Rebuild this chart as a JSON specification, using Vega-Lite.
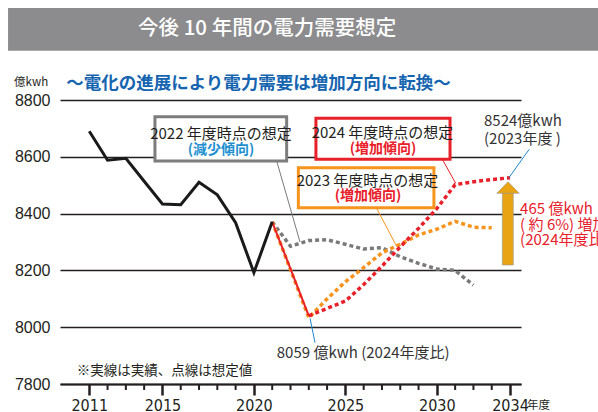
{
  "$schema": "https://vega.github.io/schema/vega-lite/v6.json",
  "width": 461,
  "height": 284,
  "autosize": {"type": "none"},
  "padding": {"left": 60, "top": 100, "right": 77, "bottom": 28},
  "background": "white",
  "config": {"view": {"stroke": null}, "text": {"font": "Noto Sans CJK JP"}},
  "datasets": {
    "series": [
      {"series": "actual", "year": 2011, "value": 8690},
      {"series": "actual", "year": 2012, "value": 8588},
      {"series": "actual", "year": 2013, "value": 8595},
      {"series": "actual", "year": 2014, "value": 8514},
      {"series": "actual", "year": 2015, "value": 8434},
      {"series": "actual", "year": 2016, "value": 8431},
      {"series": "actual", "year": 2017, "value": 8510},
      {"series": "actual", "year": 2018, "value": 8466},
      {"series": "actual", "year": 2019, "value": 8368},
      {"series": "actual", "year": 2020, "value": 8192},
      {"series": "actual", "year": 2021, "value": 8371},
      {"series": "f2024solid", "year": 2021, "value": 8371},
      {"series": "f2024solid", "year": 2023, "value": 8040},
      {"series": "f2024", "year": 2023, "value": 8040},
      {"series": "f2024", "year": 2024, "value": 8066},
      {"series": "f2024", "year": 2025, "value": 8092},
      {"series": "f2024", "year": 2026, "value": 8150},
      {"series": "f2024", "year": 2027, "value": 8215},
      {"series": "f2024", "year": 2028, "value": 8283},
      {"series": "f2024", "year": 2029, "value": 8348},
      {"series": "f2024", "year": 2030, "value": 8418},
      {"series": "f2024", "year": 2031, "value": 8502},
      {"series": "f2024", "year": 2032, "value": 8512},
      {"series": "f2024", "year": 2033, "value": 8520},
      {"series": "f2024", "year": 2034, "value": 8526},
      {"series": "f2023", "year": 2021, "value": 8371},
      {"series": "f2023", "year": 2023, "value": 8033},
      {"series": "f2023", "year": 2024, "value": 8100},
      {"series": "f2023", "year": 2025, "value": 8160},
      {"series": "f2023", "year": 2026, "value": 8210},
      {"series": "f2023", "year": 2027, "value": 8262},
      {"series": "f2023", "year": 2028, "value": 8292},
      {"series": "f2023", "year": 2029, "value": 8325},
      {"series": "f2023", "year": 2030, "value": 8345},
      {"series": "f2023", "year": 2031, "value": 8373},
      {"series": "f2023", "year": 2032, "value": 8352},
      {"series": "f2023", "year": 2033, "value": 8350},
      {"series": "f2022", "year": 2021, "value": 8371},
      {"series": "f2022", "year": 2022, "value": 8285},
      {"series": "f2022", "year": 2023, "value": 8305},
      {"series": "f2022", "year": 2024, "value": 8308},
      {"series": "f2022", "year": 2025, "value": 8292},
      {"series": "f2022", "year": 2026, "value": 8275},
      {"series": "f2022", "year": 2027, "value": 8280},
      {"series": "f2022", "year": 2028, "value": 8248},
      {"series": "f2022", "year": 2029, "value": 8225},
      {"series": "f2022", "year": 2030, "value": 8205},
      {"series": "f2022", "year": 2031, "value": 8200},
      {"series": "f2022", "year": 2032, "value": 8148}
    ],
    "minor": [
      {"year": 2012}, {"year": 2013}, {"year": 2014},
      {"year": 2016}, {"year": 2017}, {"year": 2018}, {"year": 2019},
      {"year": 2021}, {"year": 2022}, {"year": 2023}, {"year": 2024},
      {"year": 2026}, {"year": 2027}, {"year": 2028}, {"year": 2029},
      {"year": 2031}, {"year": 2032}, {"year": 2033}
    ]
  },
  "layer": [
    {
      "data": {"name": "series"},
      "transform": [{"filter": "datum.series == 'f2022'"}],
      "mark": {"type": "line", "color": "#7a7a7a", "strokeWidth": 3.5, "strokeDash": [4, 3]},
      "encoding": {
        "x": {
          "field": "year", "type": "quantitative",
          "scale": {"domain": [2009.4, 2034.6], "nice": false, "zero": false},
          "axis": {
            "title": null,
            "values": [2011, 2015, 2020, 2025, 2030, 2034],
            "format": "d",
            "grid": false,
            "domain": true, "domainColor": "#231f20", "domainWidth": 2,
            "ticks": true, "tickColor": "#231f20", "tickWidth": 2.5, "tickSize": 11,
            "labelFont": "Liberation Sans Narrow, DejaVu Sans Condensed, sans-serif",
            "labelFontSize": 16, "labelColor": "#231f20",
            "labelPadding": 2, "labelFlush": false, "labelOverlap": false
          }
        },
        "y": {
          "field": "value", "type": "quantitative",
          "scale": {"domain": [7800, 8800], "nice": false, "zero": false},
          "axis": {
            "title": null,
            "values": [7800, 8000, 8200, 8400, 8600, 8800],
            "format": "d",
            "grid": true, "gridColor": "#231f20", "gridWidth": 1.5,
            "domain": false, "ticks": false,
            "labelFont": "Liberation Sans, Arial, sans-serif",
            "labelFontSize": 16, "labelColor": "#231f20", "labelPadding": 10
          }
        }
      }
    },
    {
      "data": {"name": "minor"},
      "mark": {"type": "rule", "color": "#231f20", "strokeWidth": 2},
      "encoding": {"x": {"field": "year", "type": "quantitative"}, "y": {"datum": 7800}, "y2": {"datum": 7779}}
    },
    {
      "data": {"name": "series"},
      "transform": [{"filter": "datum.series == 'f2023'"}],
      "mark": {"type": "line", "color": "#f7941d", "strokeWidth": 3.5, "strokeDash": [4, 3]},
      "encoding": {"x": {"field": "year", "type": "quantitative"}, "y": {"field": "value", "type": "quantitative"}}
    },
    {
      "data": {"name": "series"},
      "transform": [{"filter": "datum.series == 'f2024'"}],
      "mark": {"type": "line", "color": "#e8202a", "strokeWidth": 3.5, "strokeDash": [4, 3]},
      "encoding": {"x": {"field": "year", "type": "quantitative"}, "y": {"field": "value", "type": "quantitative"}}
    },
    {
      "data": {"name": "series"},
      "transform": [{"filter": "datum.series == 'f2024solid'"}],
      "mark": {"type": "line", "color": "#e8202a", "strokeWidth": 2},
      "encoding": {"x": {"field": "year", "type": "quantitative"}, "y": {"field": "value", "type": "quantitative"}}
    },
    {
      "data": {"name": "series"},
      "transform": [{"filter": "datum.series == 'actual'"}],
      "mark": {"type": "line", "color": "#1a1a1a", "strokeWidth": 3},
      "encoding": {"x": {"field": "year", "type": "quantitative"}, "y": {"field": "value", "type": "quantitative"}}
    },
    {
      "data": {"values": [{}]},
      "mark": {"type": "rect", "fill": "#8c8c8e"},
      "encoding": {"x": {"datum": 2006.56}, "x2": {"datum": 2038.81}, "y": {"datum": 9123.9}, "y2": {"datum": 8973.6}}
    },
    {
      "data": {"values": [{}]},
      "mark": {"type": "text", "text": "今後 10 年間の電力需要想定", "color": "white", "fontSize": 20.5, "fontWeight": 500, "align": "center", "baseline": "middle"},
      "encoding": {"x": {"datum": 2020.72}, "y": {"datum": 9050}}
    },
    {
      "data": {"values": [{}]},
      "mark": {"type": "text", "text": "～電化の進展により電力需要は増加方向に転換～", "color": "#1565b0", "fontSize": 17.5, "fontWeight": "bold", "align": "center", "baseline": "middle"},
      "encoding": {"x": {"datum": 2020.25}, "y": {"datum": 8854.6}}
    },
    {
      "data": {"values": [{}]},
      "mark": {"type": "text", "text": "億kwh", "color": "#231f20", "fontSize": 11.5, "align": "left", "baseline": "middle"},
      "encoding": {"x": {"datum": 2006.89}, "y": {"datum": 8861.6}}
    },
    {
      "data": {"values": [{}]},
      "mark": {"type": "rule", "color": "#7a7a7a", "strokeWidth": 1},
      "encoding": {"x": {"datum": 2021.26}, "y": {"datum": 8581.7}, "x2": {"datum": 2022.52}, "y2": {"datum": 8300}}
    },
    {
      "data": {"values": [{}]},
      "mark": {"type": "rule", "color": "#e8202a", "strokeWidth": 1},
      "encoding": {"x": {"datum": 2030.32}, "y": {"datum": 8588.7}, "x2": {"datum": 2031.03}, "y2": {"datum": 8506.7}}
    },
    {
      "data": {"values": [{}]},
      "mark": {"type": "rule", "color": "#f7941d", "strokeWidth": 1},
      "encoding": {"x": {"datum": 2026.71}, "y": {"datum": 8418.7}, "x2": {"datum": 2027.81}, "y2": {"datum": 8283.5}}
    },
    {
      "data": {"values": [{}]},
      "mark": {"type": "rule", "color": "#1e88d0", "strokeWidth": 1},
      "encoding": {"x": {"datum": 2033.94}, "y": {"datum": 8526.4}, "x2": {"datum": 2035.05}, "y2": {"datum": 8626.4}}
    },
    {
      "data": {"values": [{}]},
      "mark": {"type": "rule", "color": "#1e88d0", "strokeWidth": 1},
      "encoding": {"x": {"datum": 2023.07}, "y": {"datum": 8031.3}, "x2": {"datum": 2023.34}, "y2": {"datum": 7945.4}}
    },
    {
      "data": {"values": [{}]},
      "mark": {"type": "rect", "fill": "white", "stroke": "#7d7d7d", "strokeWidth": 3},
      "encoding": {"x": {"datum": 2014.59}, "x2": {"datum": 2021.79}, "y": {"datum": 8741.2}, "y2": {"datum": 8585.2}}
    },
    {
      "data": {"values": [{}]},
      "mark": {"type": "rect", "fill": "white", "stroke": "#e8202a", "strokeWidth": 3},
      "encoding": {"x": {"datum": 2023.39}, "x2": {"datum": 2030.72}, "y": {"datum": 8735.6}, "y2": {"datum": 8591.2}}
    },
    {
      "data": {"values": [{}]},
      "mark": {"type": "rect", "fill": "white", "stroke": "#f7941d", "strokeWidth": 3},
      "encoding": {"x": {"datum": 2022.43}, "x2": {"datum": 2029.84}, "y": {"datum": 8561.6}, "y2": {"datum": 8420.8}}
    },
    {
      "data": {"values": [{}]},
      "mark": {"type": "text", "text": "2022 年度時点の想定", "color": "#231f20", "fontSize": 15, "align": "center", "baseline": "middle"},
      "encoding": {"x": {"datum": 2018.2}, "y": {"datum": 8680}}
    },
    {
      "data": {"values": [{}]},
      "mark": {"type": "text", "text": "(減少傾向)", "color": "#1e90d0", "fontSize": 14, "fontWeight": "bold", "align": "center", "baseline": "middle"},
      "encoding": {"x": {"datum": 2018.2}, "y": {"datum": 8625}}
    },
    {
      "data": {"values": [{}]},
      "mark": {"type": "text", "text": "2024 年度時点の想定", "color": "#231f20", "fontSize": 15, "align": "center", "baseline": "middle"},
      "encoding": {"x": {"datum": 2027.03}, "y": {"datum": 8685}}
    },
    {
      "data": {"values": [{}]},
      "mark": {"type": "text", "text": "(増加傾向)", "color": "#e8202a", "fontSize": 14, "fontWeight": "bold", "align": "center", "baseline": "middle"},
      "encoding": {"x": {"datum": 2027.06}, "y": {"datum": 8627}}
    },
    {
      "data": {"values": [{}]},
      "mark": {"type": "text", "text": "2023 年度時点の想定", "color": "#231f20", "fontSize": 15, "align": "center", "baseline": "middle"},
      "encoding": {"x": {"datum": 2026.21}, "y": {"datum": 8516}}
    },
    {
      "data": {"values": [{}]},
      "mark": {"type": "text", "text": "(増加傾向)", "color": "#e8202a", "fontSize": 14, "fontWeight": "bold", "align": "center", "baseline": "middle"},
      "encoding": {"x": {"datum": 2026.24}, "y": {"datum": 8462}}
    },
    {
      "data": {"values": [{}]},
      "mark": {"type": "text", "text": "8524億kwh", "color": "#333333", "fontSize": 15, "align": "left", "baseline": "middle"},
      "encoding": {"x": {"datum": 2032.58}, "y": {"datum": 8724.3}}
    },
    {
      "data": {"values": [{}]},
      "mark": {"type": "text", "text": "(2023年度 )", "color": "#333333", "fontSize": 15, "align": "left", "baseline": "middle"},
      "encoding": {"x": {"datum": 2032.58}, "y": {"datum": 8664.4}}
    },
    {
      "data": {"values": [{}]},
      "mark": {"type": "text", "text": "8059 億kwh (2024年度比)", "color": "#333333", "fontSize": 15, "align": "left", "baseline": "middle"},
      "encoding": {"x": {"datum": 2021.25}, "y": {"datum": 7910.9}}
    },
    {
      "data": {"values": [{}]},
      "mark": {"type": "rect", "fill": "#e8a412", "stroke": "#999999", "strokeWidth": 0.6},
      "encoding": {"x": {"datum": 2033.58}, "x2": {"datum": 2034.18}, "y": {"datum": 8219}, "y2": {"datum": 8472.5}}
    },
    {
      "data": {"values": [{}]},
      "mark": {"type": "point", "shape": "M-1,0.513L0,-0.513L1,0.513Z", "size": 511, "filled": true, "fill": "#e8a412", "stroke": "#999999", "strokeWidth": 0.6, "opacity": 1},
      "encoding": {"x": {"datum": 2033.89}, "y": {"datum": 8491.9}}
    },
    {
      "data": {"values": [{}]},
      "mark": {"type": "text", "text": "465 億kwh", "color": "#e8202a", "fontSize": 15, "align": "left", "baseline": "middle"},
      "encoding": {"x": {"datum": 2034.55}, "y": {"datum": 8416.2}}
    },
    {
      "data": {"values": [{}]},
      "mark": {"type": "text", "text": "( 約 6%) 増加", "color": "#e8202a", "fontSize": 15, "align": "left", "baseline": "middle"},
      "encoding": {"x": {"datum": 2034.55}, "y": {"datum": 8359.9}}
    },
    {
      "data": {"values": [{}]},
      "mark": {"type": "text", "text": "(2024年度比", "color": "#e8202a", "fontSize": 15, "align": "left", "baseline": "middle"},
      "encoding": {"x": {"datum": 2034.55}, "y": {"datum": 8308.8}}
    },
    {
      "data": {"values": [{}]},
      "mark": {"type": "text", "text": "※実線は実績、点線は想定値", "color": "#231f20", "fontSize": 13.5, "align": "left", "baseline": "middle"},
      "encoding": {"x": {"datum": 2010.31}, "y": {"datum": 7845.8}}
    },
    {
      "data": {"values": [{}]},
      "mark": {"type": "text", "text": "年度", "color": "#231f20", "fontSize": 11.5, "align": "left", "baseline": "middle"},
      "encoding": {"x": {"datum": 2034.93}, "y": {"datum": 7722.5}}
    }
  ]
}
